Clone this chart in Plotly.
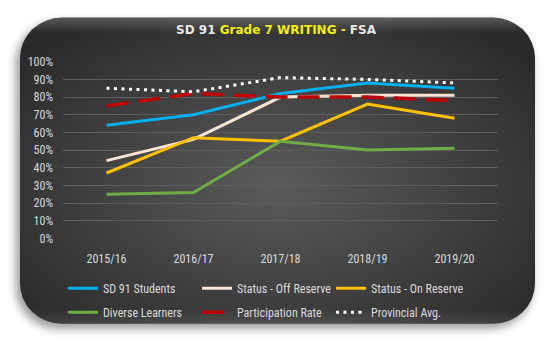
import base64
import plotly.graph_objects as go

years = ["2015/16", "2016/17", "2017/18", "2018/19", "2019/20"]
sd91 = [64, 70, 82, 88, 85]
off_reserve = [44, 56, 80, 81, 81]
on_reserve = [37, 57, 55, 76, 68]
diverse = [25, 26, 55, 50, 51]
participation = [75, 82, 80, 80, 78]
provincial = [85, 83, 91, 90, 88]
y_ticks = [0, 10, 20, 30, 40, 50, 60, 70, 80, 90, 100]
y_tick_labels = [f"{v}%" for v in y_ticks]

W, H = 547, 350
FONT = "Liberation Sans Narrow, Roboto Condensed, Roboto, sans-serif"

svg = f'''<svg xmlns="http://www.w3.org/2000/svg" width="{W}" height="{H}" viewBox="0 0 {W} {H}">
<defs>
<radialGradient id="g" cx="50%" cy="55%" r="65%">
<stop offset="0" stop-color="#5b5b5b"/>
<stop offset="1" stop-color="#2a2a2a"/>
</radialGradient>
<linearGradient id="hl" x1="0" y1="0" x2="0" y2="1">
<stop offset="0" stop-color="#ffffff" stop-opacity="0.22"/>
<stop offset="0.05" stop-color="#ffffff" stop-opacity="0"/>
<stop offset="0.95" stop-color="#ffffff" stop-opacity="0"/>
<stop offset="1" stop-color="#ffffff" stop-opacity="0.10"/>
</linearGradient>
<filter id="s" x="-10%" y="-10%" width="120%" height="130%"><feGaussianBlur stdDeviation="5"/></filter>
</defs>
<rect x="16" y="16" width="516" height="319" rx="42" fill="#000" opacity="0.4" filter="url(#s)"/>
<rect x="20" y="11" width="515" height="319" rx="42" fill="url(#g)"/>
<rect x="20" y="11" width="515" height="319" rx="42" fill="url(#hl)"/>
</svg>'''
src = "data:image/svg+xml;base64," + base64.b64encode(svg.encode()).decode()

fig = go.Figure()

series = [
    ("SD 91 Students", sd91, dict(color="#00b0f0", width=3), "legend"),
    ("Status - Off Reserve", off_reserve, dict(color="#fbe5d6", width=3), "legend"),
    ("Status - On Reserve", on_reserve, dict(color="#ffc000", width=3), "legend"),
    ("Diverse Learners", diverse, dict(color="#70ad47", width=3), "legend2"),
    ("Participation Rate", participation, dict(color="#c00000", width=3.5, dash="22px,10px"), "legend2"),
    ("Provincial Avg.", provincial, dict(color="#ffffff", width=3, dash="3px,4.5px"), "legend2"),
]
for name, vals, line, lg in series:
    fig.add_trace(go.Scatter(x=years, y=vals, name=name, mode="lines", line=line, legend=lg))

x0, x1 = 63 / W, 498 / W
ybot, ytop = 1 - 241 / H, 1 - 57 / H

legend_common = dict(
    orientation="h", xanchor="left", yanchor="middle",
    font=dict(family=FONT, size=12, color="#d9d9d9"),
    bgcolor="rgba(0,0,0,0)", entrywidth=89, entrywidthmode="pixels",
    tracegroupgap=0, itemwidth=30,
)

fig.update_layout(
    width=W, height=H,
    margin=dict(l=0, r=0, t=0, b=0),
    paper_bgcolor="white",
    plot_bgcolor="rgba(0,0,0,0)",
    images=[dict(source=src, xref="paper", yref="paper", x=0, y=1, sizex=1, sizey=1,
                 xanchor="left", yanchor="top", sizing="stretch", layer="below")],
    title=dict(
        text="<b>SD 91 <span style='color:#f2f200'>Grade 7 WRITING -</span> FSA</b>",
        x=276 / W, y=1 - 30 / H, xanchor="center", yanchor="middle",
        font=dict(family="DejaVu Sans", size=12, color="#e8e8e8"),
    ),
    xaxis=dict(
        domain=[x0, x1], range=[-0.5, 4.5], showgrid=False, zeroline=False,
        showline=False, ticks="", ticklabelstandoff=12,
        tickfont=dict(family=FONT, size=12, color="#d9d9d9"),
    ),
    yaxis=dict(
        domain=[ybot, ytop], range=[0, 100], tickmode="array",
        tickvals=y_ticks, ticktext=y_tick_labels,
        showgrid=True, gridcolor="#5e5e5e", gridwidth=1, zeroline=False,
        showline=False, ticks="", ticklabelstandoff=9,
        tickfont=dict(family=FONT, size=12, color="#d9d9d9"),
    ),
    legend=dict(x=63 / W, y=1 - 293 / H, **legend_common),
    legend2=dict(x=63 / W, y=1 - 318 / H, **legend_common),
    showlegend=True,
)

fig.write_html("out.html")
